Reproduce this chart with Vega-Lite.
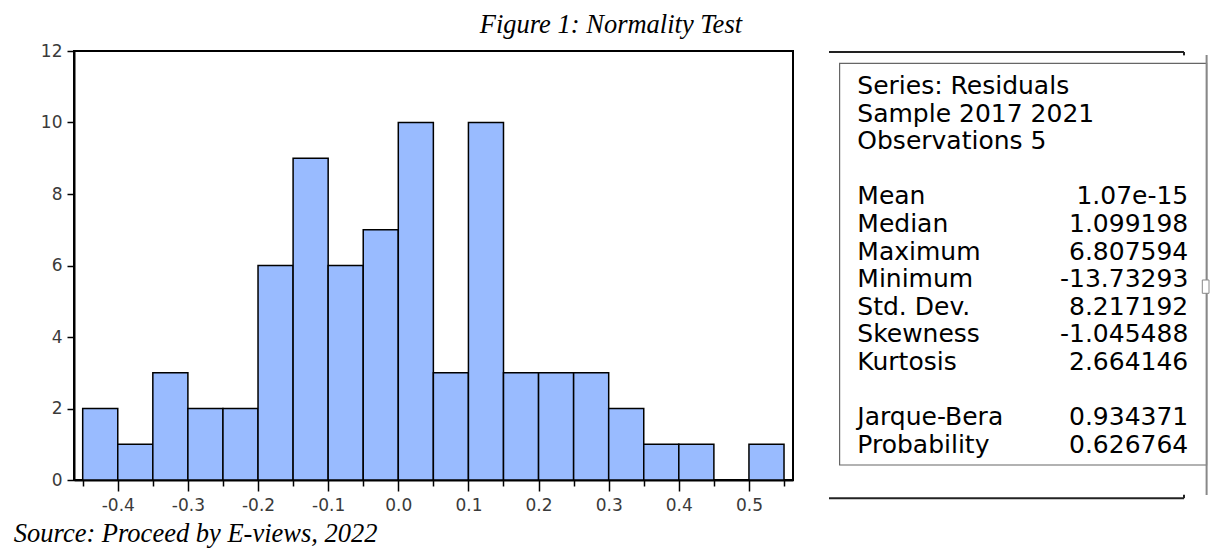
{
  "$schema": "https://vega.github.io/schema/vega-lite/v6.json",
  "padding": {"left": 12, "top": 12, "right": 0, "bottom": 0},
  "background": "white",
  "title": {"text": "Figure 1: Normality Test", "font": "Liberation Serif", "fontStyle": "italic", "fontWeight": "normal", "fontSize": 26.5, "color": "black", "anchor": "middle", "offset": 2.5},
  "spacing": 34,
  "hconcat": [
    {
      "width": 719,
      "height": 429,
      "view": {"stroke": "black", "strokeWidth": 2},
      "data": {"values": [
        {"bin_start": -0.45, "bin_end": -0.40, "count": 2},
        {"bin_start": -0.40, "bin_end": -0.35, "count": 1},
        {"bin_start": -0.35, "bin_end": -0.30, "count": 3},
        {"bin_start": -0.30, "bin_end": -0.25, "count": 2},
        {"bin_start": -0.25, "bin_end": -0.20, "count": 2},
        {"bin_start": -0.20, "bin_end": -0.15, "count": 6},
        {"bin_start": -0.15, "bin_end": -0.10, "count": 9},
        {"bin_start": -0.10, "bin_end": -0.05, "count": 6},
        {"bin_start": -0.05, "bin_end": 0.00, "count": 7},
        {"bin_start": 0.00, "bin_end": 0.05, "count": 10},
        {"bin_start": 0.05, "bin_end": 0.10, "count": 3},
        {"bin_start": 0.10, "bin_end": 0.15, "count": 10},
        {"bin_start": 0.15, "bin_end": 0.20, "count": 3},
        {"bin_start": 0.20, "bin_end": 0.25, "count": 3},
        {"bin_start": 0.25, "bin_end": 0.30, "count": 3},
        {"bin_start": 0.30, "bin_end": 0.35, "count": 2},
        {"bin_start": 0.35, "bin_end": 0.40, "count": 1},
        {"bin_start": 0.40, "bin_end": 0.45, "count": 1},
        {"bin_start": 0.45, "bin_end": 0.50, "count": 0},
        {"bin_start": 0.50, "bin_end": 0.55, "count": 1}
      ]},
      "mark": {"type": "bar", "fill": "#99BBFF", "stroke": "black", "strokeWidth": 1.5},
      "encoding": {
        "x": {
          "field": "bin_start", "type": "quantitative",
          "scale": {"domain": [-0.4624, 0.5628], "nice": false, "zero": false},
          "axis": {
            "values": [-0.45, -0.4, -0.35, -0.3, -0.25, -0.2, -0.15, -0.1, -0.05, 0, 0.05, 0.1, 0.15, 0.2, 0.25, 0.3, 0.35, 0.4, 0.45, 0.5, 0.55],
            "labelExpr": "abs(round(datum.value*20))%2==0 ? replace(format(datum.value, '.1f'), '\u2212', '-') : ''",
            "tickSize": {"condition": {"test": "abs(round(datum.value*20))%2==0", "value": 11}, "value": 6},
            "tickColor": "black", "tickWidth": 1.5,
            "domainColor": "black", "domainWidth": 2,
            "labelFont": "DejaVu Sans", "labelFontSize": 17, "labelColor": "#3a3a3a",
            "labelPadding": 6, "labelFlush": false, "labelOverlap": false,
            "grid": false,
            "title": "Source: Proceed by E-views, 2022",
            "titleFont": "Liberation Serif", "titleFontStyle": "italic", "titleFontWeight": "normal",
            "titleFontSize": 26.5, "titleColor": "black",
            "titleAnchor": "start", "titleAlign": "left", "titleBaseline": "alphabetic",
            "titleX": -60.7, "titleY": 61
          }
        },
        "x2": {"field": "bin_end"},
        "y": {
          "field": "count", "type": "quantitative",
          "scale": {"domain": [0, 12], "nice": false},
          "axis": {
            "values": [0, 2, 4, 6, 8, 10, 12],
            "tickSize": 7, "tickColor": "black", "tickWidth": 1.5,
            "domainColor": "black", "domainWidth": 2,
            "labelFont": "DejaVu Sans", "labelFontSize": 17, "labelColor": "#3a3a3a",
            "labelPadding": 5, "labelFlush": false,
            "grid": false, "title": null
          }
        },
        "y2": {"datum": 0}
      }
    },
    {
      "width": 380,
      "height": 448,
      "view": {"stroke": null},
      "data": {"values": [
        {"stat": "Series: Residuals", "val": "", "line": 0},
        {"stat": "Sample 2017 2021", "val": "", "line": 1},
        {"stat": "Observations 5", "val": "", "line": 2},
        {"stat": "Mean", "val": "1.07e-15", "line": 4},
        {"stat": "Median", "val": "1.099198", "line": 5},
        {"stat": "Maximum", "val": "6.807594", "line": 6},
        {"stat": "Minimum", "val": "-13.73293", "line": 7},
        {"stat": "Std. Dev.", "val": "8.217192", "line": 8},
        {"stat": "Skewness", "val": "-1.045488", "line": 9},
        {"stat": "Kurtosis", "val": "2.664146", "line": 10},
        {"stat": "Jarque-Bera", "val": "0.934371", "line": 12},
        {"stat": "Probability", "val": "0.626764", "line": 13}
      ]},
      "layer": [
        {
          "data": {"values": [{}]},
          "mark": {"type": "rect", "fill": "white", "stroke": "#666", "strokeWidth": 1.2},
          "encoding": {
            "x": {"datum": 0.0279, "type": "quantitative", "scale": {"domain": [0, 1], "nice": false, "zero": false}, "axis": null},
            "x2": {"datum": 0.9937},
            "y": {"datum": -1.112, "type": "quantitative", "scale": {"domain": [-1.558, 14.674], "nice": false, "zero": false, "reverse": true}, "axis": null},
            "y2": {"datum": 13.442}
          }
        },
        {
          "data": {"values": [{}]},
          "mark": {"type": "rule", "color": "#222", "strokeWidth": 2},
          "encoding": {
            "x": {"datum": 0, "type": "quantitative", "scale": {"domain": [0, 1], "nice": false, "zero": false}, "axis": null},
            "x2": {"datum": 0.9342},
            "y": {"datum": -1.522, "type": "quantitative", "scale": {"domain": [-1.558, 14.674], "nice": false, "zero": false, "reverse": true}, "axis": null}
          }
        },
        {
          "data": {"values": [{}]},
          "mark": {"type": "rule", "color": "#222", "strokeWidth": 2},
          "encoding": {
            "x": {"datum": 0.9342, "type": "quantitative", "scale": {"domain": [0, 1], "nice": false, "zero": false}, "axis": null},
            "y": {"datum": -1.522, "type": "quantitative", "scale": {"domain": [-1.558, 14.674], "nice": false, "zero": false, "reverse": true}, "axis": null},
            "y2": {"datum": -1.40}
          }
        },
        {
          "data": {"values": [{}]},
          "mark": {"type": "rule", "color": "#222", "strokeWidth": 2},
          "encoding": {
            "x": {"datum": 0, "type": "quantitative", "scale": {"domain": [0, 1], "nice": false, "zero": false}, "axis": null},
            "x2": {"datum": 0.9342},
            "y": {"datum": 14.645, "type": "quantitative", "scale": {"domain": [-1.558, 14.674], "nice": false, "zero": false, "reverse": true}, "axis": null}
          }
        },
        {
          "data": {"values": [{}]},
          "mark": {"type": "rule", "color": "#222", "strokeWidth": 2},
          "encoding": {
            "x": {"datum": 0.9342, "type": "quantitative", "scale": {"domain": [0, 1], "nice": false, "zero": false}, "axis": null},
            "y": {"datum": 14.52, "type": "quantitative", "scale": {"domain": [-1.558, 14.674], "nice": false, "zero": false, "reverse": true}, "axis": null},
            "y2": {"datum": 14.645}
          }
        },
        {
          "data": {"values": [{}]},
          "mark": {"type": "rule", "color": "#888", "strokeWidth": 2},
          "encoding": {
            "x": {"datum": 0.9937, "type": "quantitative", "scale": {"domain": [0, 1], "nice": false, "zero": false}, "axis": null},
            "y": {"datum": -1.413, "type": "quantitative", "scale": {"domain": [-1.558, 14.674], "nice": false, "zero": false, "reverse": true}, "axis": null},
            "y2": {"datum": 14.529}
          }
        },
        {
          "data": {"values": [{}]},
          "mark": {"type": "rect", "fill": "white", "stroke": "#888", "strokeWidth": 1},
          "encoding": {
            "x": {"datum": 0.9824, "type": "quantitative", "scale": {"domain": [0, 1], "nice": false, "zero": false}, "axis": null},
            "x2": {"datum": 1.0},
            "y": {"datum": 6.739, "type": "quantitative", "scale": {"domain": [-1.558, 14.674], "nice": false, "zero": false, "reverse": true}, "axis": null},
            "y2": {"datum": 7.221}
          }
        },
        {
          "mark": {"type": "text", "align": "left", "baseline": "alphabetic", "font": "DejaVu Sans", "fontSize": 25, "color": "black"},
          "encoding": {
            "x": {"datum": 0.0745, "type": "quantitative", "scale": {"domain": [0, 1], "nice": false, "zero": false}, "axis": null},
            "y": {"field": "line", "type": "quantitative", "scale": {"domain": [-1.558, 14.674], "nice": false, "zero": false, "reverse": true}, "axis": null},
            "text": {"field": "stat"}
          }
        },
        {
          "transform": [{"filter": "datum.val != ''"}],
          "mark": {"type": "text", "align": "right", "baseline": "alphabetic", "font": "DejaVu Sans", "fontSize": 25, "color": "black"},
          "encoding": {
            "x": {"datum": 0.9455, "type": "quantitative", "scale": {"domain": [0, 1], "nice": false, "zero": false}, "axis": null},
            "y": {"field": "line", "type": "quantitative", "scale": {"domain": [-1.558, 14.674], "nice": false, "zero": false, "reverse": true}, "axis": null},
            "text": {"field": "val"}
          }
        }
      ]
    }
  ]
}
